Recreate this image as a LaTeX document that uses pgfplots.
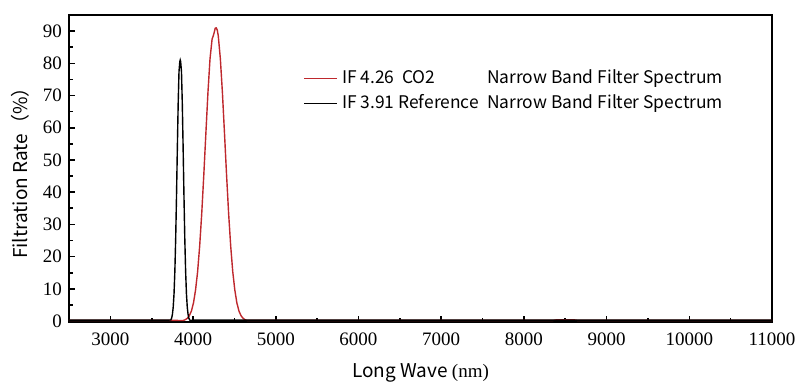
\documentclass[border=0pt]{standalone}
\usepackage{fontspec}
\setmainfont{Liberation Serif}
\newfontfamily\cjk{Noto Sans CJK TC}
\usepackage{pgfplots}
\pgfplotsset{compat=1.18}
\usetikzlibrary{calc}
\definecolor{redline}{RGB}{190,40,45}
\begin{document}
\begin{tikzpicture}
\begin{axis}[
  scale only axis=true,
  width=351.5pt, height=153.5pt,
  xmin=2500, xmax=11000, ymin=-0.3, ymax=95,
  xtick={3000,4000,5000,6000,7000,8000,9000,10000,11000},
  xticklabels={3000,4000,5000,6000,7000,8000,9000,10000,11000},
  minor xtick={2500,3500,...,10500},
  ytick={0,10,20,30,40,50,60,70,80,90},
  yticklabels={0,10,20,30,40,50,60,70,80,90},
  minor ytick={5,15,...,85},
  axis line style={line width=1.2pt},
  tick style={black, line width=0.8pt},
  major tick length=3pt, minor tick length=2pt,
  xtick pos=bottom, ytick pos=left,
  tick align=inside,
  scaled x ticks=false,
  ticklabel style={font=\rmfamily\fontsize{9.5}{11}\selectfont},
  xticklabel style={yshift=-2pt},
  xlabel={{\cjk Long Wave }(nm)},
  ylabel={{\cjk Filtration Rate}{\cjk （\%）}},
  label style={font=\fontsize{9.5}{11}\selectfont},
  xlabel style={yshift=-2pt},
  legend style={draw=none, fill=none, at={(0.325,0.848)}, anchor=north west,
    font=\cjk\fontsize{8.7}{10.5}\selectfont, row sep=0pt},
  legend cell align=left,
  legend image code/.code={\draw[#1, line width=0.6pt] (0cm,0cm) -- (0.58cm,0cm);},
]
\addplot[redline, line width=0.7pt] coordinates {
(2500,0.2) (3700,0.2) (3880,0.17) (3905,0.39) (3930,0.83) (3955,1.66) (3980,3.1) (4005,5.6)
(4030,9.6) (4055,15.3) (4080,23.3) (4105,33.4) (4130,45.4) (4155,58.3)
(4180,70.9) (4205,81.4) (4230,87.5) (4245,88.6) (4258,89.8) (4268,90.9) (4280,91)
(4293,90.3) (4305,88.5) (4330,81.4) (4355,70.9) (4380,58.3) (4405,45.4)
(4430,33.4) (4455,23.3) (4480,15.3) (4505,9.6) (4530,5.6) (4555,3.1)
(4580,1.66) (4605,0.83) (4630,0.39) (4655,0.2) (8350,0.2) (8400,0.4) (8600,0.4) (8650,0.2) (11000,0.2)
};
\addlegendentry{\makebox[72.5pt][l]{IF 4.26\ \ CO2}Narrow Band Filter Spectrum}
\addplot[black, line width=0.7pt] coordinates {
(2500,0.3) (3700,0.3) (3730,0.31) (3740,0.82) (3750,1.97) (3760,4.3) (3770,8.5)
(3780,15.5) (3790,25.7) (3800,38.9) (3810,53.6) (3820,67.4) (3830,77.4)
(3840,80.5) (3845,81) (3850,80.5) (3860,77.4) (3870,67.4) (3880,53.6) (3890,38.9)
(3900,25.7) (3910,15.5) (3920,8.5) (3930,4.3) (3940,1.97) (3950,0.82)
(3960,0.31) (3975,0.1) (3990,0.3) (11000,0.3)
};
\addlegendentry{\makebox[72.5pt][l]{IF 3.91 Reference}Narrow Band Filter Spectrum}
\end{axis}
\pgfresetboundingbox
\path (current axis.south west) ++(-34.5pt,-33.5pt) rectangle ($(current axis.north east)+(14pt,7.5pt)$);
\end{tikzpicture}
\end{document}
